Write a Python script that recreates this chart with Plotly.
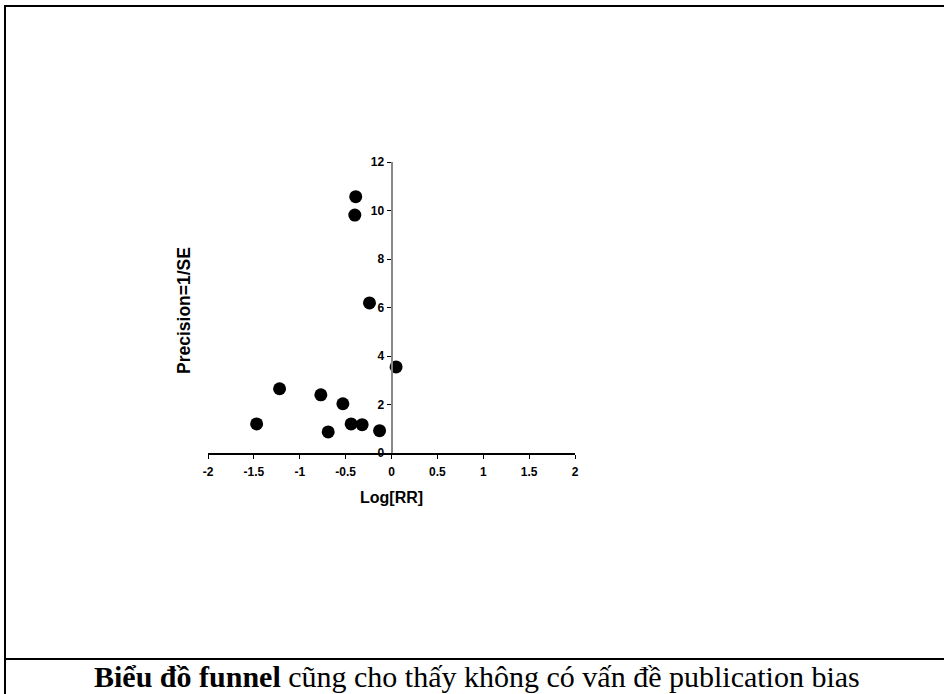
import plotly.graph_objects as go

# Data
log_rr = [-1.47, -1.22, -0.77, -0.53, -0.69, -0.44, -0.32, -0.13, 0.05, -0.39, -0.40, -0.24]
precision = [1.20, 2.65, 2.40, 2.03, 0.87, 1.20, 1.17, 0.92, 3.55, 10.57, 9.81, 6.19]

x_tickvals = [-2, -1.5, -1, -0.5, 0, 0.5, 1, 1.5, 2]
x_ticktext = ["-2", "-1.5", "-1", "-0.5", "0", "0.5", "1", "1.5", "2"]
y_tickvals = [0, 2, 4, 6, 8, 10, 12]
y_ticktext = ["0", "2", "4", "6", "8", "10", "12"]

caption = "<b>Biểu đồ funnel</b> cũng cho thấy không có vấn đề publication bias"

W, H = 944, 694
L, R, T, B = 208, 575, 162, 453  # plot area in pixels

def px(xp):
    return (xp - L) / (R - L)

def py(yp):
    return (B - yp) / (B - T)

fig = go.Figure()
fig.add_trace(go.Scatter(
    x=log_rr, y=precision, mode="markers",
    marker=dict(color="black", size=13, line=dict(width=0)),
    showlegend=False, cliponaxis=False,
))

tickfont = dict(family="Liberation Sans, Arial", size=12, color="black", weight="bold")

fig.update_layout(
    width=W, height=H,
    margin=dict(l=L, r=W - R, t=T, b=H - B, pad=0),
    paper_bgcolor="white", plot_bgcolor="white",
    xaxis=dict(
        range=[-2, 2], tickvals=x_tickvals, ticktext=x_ticktext,
        showgrid=False, zeroline=False, showline=True, linecolor="black", linewidth=1.5,
        ticks="outside", ticklen=4, tickcolor="black", tickwidth=1,
        tickfont=tickfont, ticklabelstandoff=3,
    ),
    yaxis=dict(
        range=[0, 12], tickvals=y_tickvals, ticktext=y_ticktext,
        anchor="free", position=0.5,
        showgrid=False, zeroline=False, showline=True, linecolor="#888888", linewidth=2,
        ticks="outside", ticklen=4, tickcolor="black", tickwidth=1,
        tickfont=tickfont,
    ),
    annotations=[
        dict(text="<b>Log[RR]</b>", xref="paper", yref="paper",
             x=px(391), y=py(497), showarrow=False, xanchor="center", yanchor="middle",
             font=dict(family="Liberation Sans, Arial", size=16, color="black")),
        dict(text="<b>Precision=1/SE</b>", xref="paper", yref="paper",
             x=px(184), y=py(311), showarrow=False, xanchor="center", yanchor="middle",
             textangle=-90,
             font=dict(family="Liberation Sans, Arial", size=17.5, color="black")),
        dict(text=caption, xref="paper", yref="paper",
             x=px(477), y=py(676), showarrow=False, xanchor="center", yanchor="middle",
             font=dict(family="Liberation Serif, Times New Roman", size=30, color="black")),
    ],
    shapes=[
        dict(type="line", xref="paper", yref="paper", x0=px(4), x1=px(946), y0=py(6), y1=py(6),
             line=dict(color="black", width=2)),
        dict(type="line", xref="paper", yref="paper", x0=px(5), x1=px(5), y0=py(5), y1=py(700),
             line=dict(color="black", width=2)),
        dict(type="line", xref="paper", yref="paper", x0=px(4), x1=px(946), y0=py(659), y1=py(659),
             line=dict(color="black", width=2)),
    ],
)

fig.write_html("out.html")
